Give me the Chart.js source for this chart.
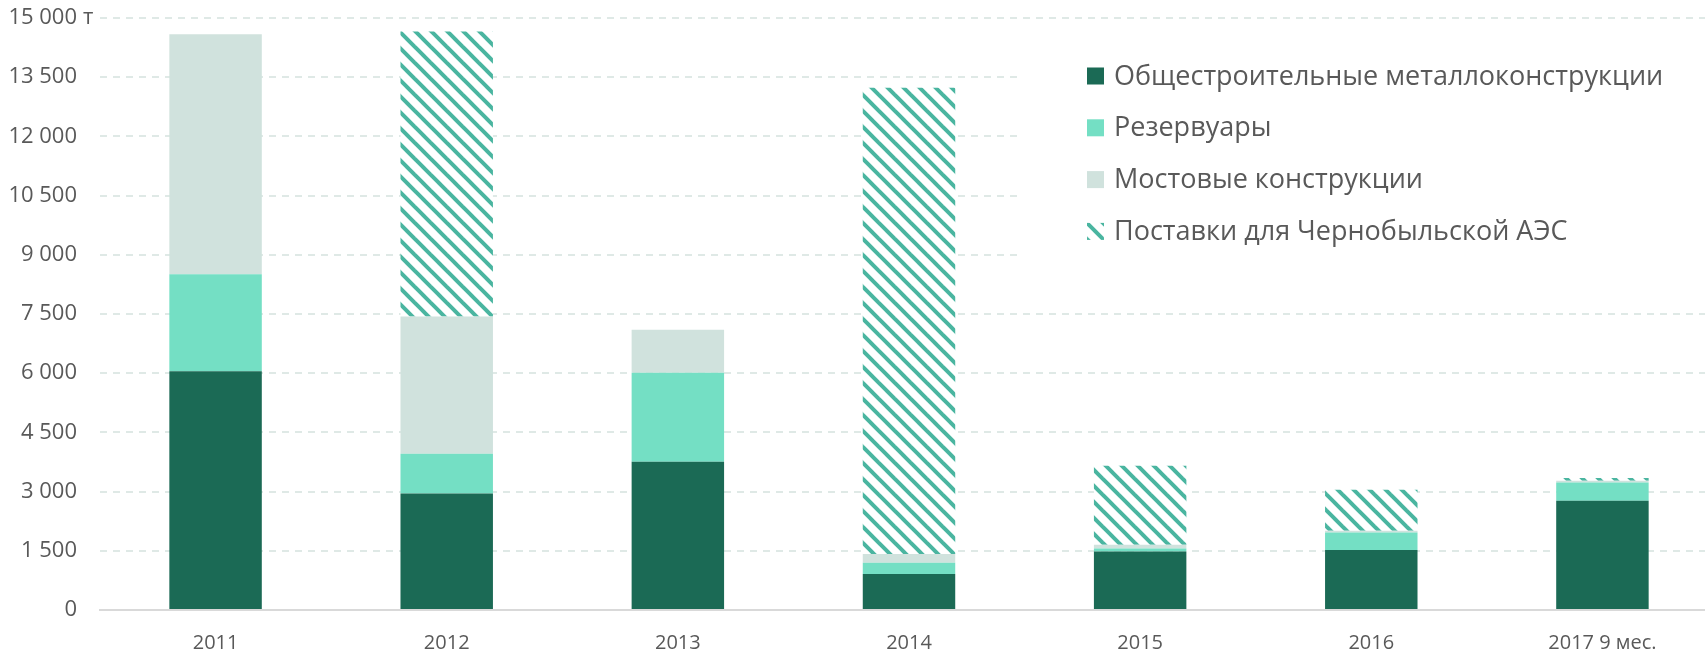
<!DOCTYPE html>
<html lang="ru">
<head>
<meta charset="utf-8">
<script src="https://cdn.jsdelivr.net/npm/chart.js@4/dist/chart.umd.min.js"></script>
<style>
  html, body { margin: 0; padding: 0; background: #fff; overflow: hidden; }
  #wrap { position: relative; width: 1718px; height: 652px; }
</style>
</head>
<body>
<div id="wrap"><canvas id="grafico"></canvas></div>
<script>
// Datos del gráfico
const categorias = ['2011', '2012', '2013', '2014', '2015', '2016', '2017 9 мес.'];
const metallokonstr = [6050, 2950, 3757, 912, 1485, 1520, 2770];
const rezervuary = [2460, 1010, 2254, 286, 76, 446, 463];
const mostovye = [6080, 3478, 1090, 220, 93, 43, 42];
const chernobyl = [0, 7220, 0, 11812, 2000, 1040, 68];
const etiquetas = ['Общестроительные металлоконструкции', 'Резервуары', 'Мостовые конструкции', 'Поставки для Чернобыльской АЭС'];

const colorTexto = '#595959';
const fuente = '"Open Sans", "DejaVu Sans", sans-serif';

// Patrón rayado para la serie de Чернобыльской АЭС
function crearRayado() {
    const s = 16;
    const c = document.createElement('canvas');
    c.width = s;
    c.height = s;
    const g = c.getContext('2d');
    g.fillStyle = '#ffffff';
    g.fillRect(0, 0, s, s);
    g.strokeStyle = '#4ab5a0';
    g.lineWidth = 4;
    for (let k = -1; k <= 1; k++) {
        g.beginPath();
        g.moveTo(k * s - 2, -2);
        g.lineTo(k * s + s + 2, s + 2);
        g.stroke();
    }
    return g.createPattern(c, 'repeat');
}

const ctx = document.getElementById('grafico').getContext('2d');
const rayado = crearRayado();

// Leyenda propia dibujada sobre un fondo blanco
const leyendaPlugin = {
    id: 'leyendaPropia',
    afterDraw(chart) {
        const c = chart.ctx;
        c.save();
        c.fillStyle = '#ffffff';
        c.fillRect(1017, 34, 700, 232);
        c.font = '27px ' + fuente;
        c.textBaseline = 'middle';
        c.textAlign = 'left';
        chart.data.datasets.forEach((ds, i) => {
            const y = 76 + i * 51.8;
            c.fillStyle = ds.backgroundColor;
            c.fillRect(1087, y - 8.5, 17, 17);
            c.fillStyle = colorTexto;
            c.fillText(ds.label, 1114, y + 1);
        });
        // unidad junto a la marca superior
        const esc = chart.scales.y;
        c.font = '22px ' + fuente;
        c.fillText('т', esc.right - 23 + 6, esc.getPixelForValue(15000));
        c.restore();
    }
};

new Chart(ctx, {
    type: 'bar',
    data: {
        labels: categorias,
        datasets: [
            { label: etiquetas[0], data: metallokonstr, backgroundColor: '#1b6a55' },
            { label: etiquetas[1], data: rezervuary, backgroundColor: '#74dfc4' },
            { label: etiquetas[2], data: mostovye, backgroundColor: '#d0e2dd' },
            { label: etiquetas[3], data: chernobyl, backgroundColor: rayado }
        ]
    },
    options: {
        responsive: true,
        maintainAspectRatio: false,
        animation: false,
        layout: { padding: { top: 18, right: 0, bottom: 0, left: 0 } },
        datasets: {
            bar: { barPercentage: 0.8, categoryPercentage: 0.5, borderWidth: 0 }
        },
        plugins: {
            legend: { display: false },
            tooltip: { enabled: false }
        },
        scales: {
            x: {
                stacked: true,
                grid: { display: false },
                border: { display: true, color: '#d9d9d9', width: 2 },
                ticks: { color: colorTexto, font: { family: fuente, size: 20 }, padding: 13, maxRotation: 0 },
                afterFit(scale) { scale.height = 42; }
            },
            y: {
                stacked: true,
                min: 0,
                max: 15000,
                grid: { color: '#dfe9e6', lineWidth: 2, drawTicks: false },
                border: { display: false, dash: [7, 6] },
                ticks: {
                    stepSize: 1500,
                    color: colorTexto,
                    padding: 23,
                    font: { family: fuente, size: 22 },
                    callback: v => String(v).replace(/\B(?=(\d{3})+(?!\d))/g, ' ')
                },
                afterFit(scale) {
                    scale.width = 100;
                    scale.paddingTop = 0;
                    scale.paddingBottom = 0;
                }
            }
        }
    },
    plugins: [leyendaPlugin]
});
</script>
</body>
</html>
